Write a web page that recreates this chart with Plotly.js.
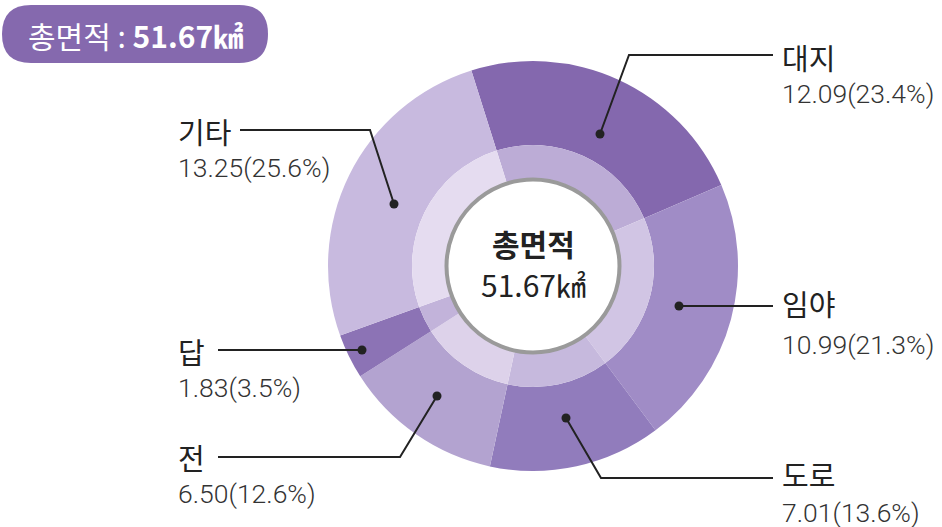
<!DOCTYPE html>
<html><head><meta charset="utf-8">
<script src="https://cdn.plot.ly/plotly-3.0.1.min.js"></script>
<style>html,body{margin:0;padding:0;background:#fff;}#chart{width:942px;height:527px;}</style>
</head><body><div id="chart"></div>
<script>
const categories = ['대지', '임야', '도로', '전', '답', '기타'];
const areas = [12.09, 10.99, 7.01, 6.50, 1.83, 13.25];
const percents = ['23.4%', '21.3%', '13.6%', '12.6%', '3.5%', '25.6%'];
const totalLabel = '총면적';
const totalValue = '51.67㎢';
const outerColors = ['#8468ae', '#a08cc6', '#917cbc', '#b3a3d0', '#8c73b5', '#c8badf'];
const innerColors = ['#bcacd6', '#d1c5e4', '#c6b9dd', '#ddd2ea', '#c2b3da', '#e5dcf0'];

const W = 942, H = 527;
const CX = 533, CY = 266, R_OUT = 205, R_MID = 121, R_IN = 86.5;
const px = x => x / W;
const py = y => 1 - y / H;
function dom(r) { return { x: [px(CX - r), px(CX + r)], y: [py(CY + r), py(CY - r)] }; }

const KR = '"Noto Sans CJK KR", "Noto Sans", sans-serif';
const NUM = 'Roboto, "Noto Sans CJK KR", sans-serif';

const common = { type: 'pie', sort: false, direction: 'clockwise', rotation: -17.5,
  textinfo: 'none', hoverinfo: 'label+value', showlegend: false };

const traces = [
  Object.assign({}, common, { labels: categories, values: areas, domain: dom(R_OUT), hole: R_MID / R_OUT,
    marker: { colors: outerColors, line: { width: 0 } } }),
  Object.assign({}, common, { labels: categories, values: areas, domain: dom(R_MID), hole: 84 / R_MID,
    marker: { colors: innerColors, line: { width: 0 } } })
];

const labelPos = {
  '대지': { x: 780, ty: 57, vy: 94, pts: [[600, 134], [629, 55], [773, 55]] },
  '임야': { x: 780, ty: 303, vy: 344, pts: [[679, 306], [773, 306]] },
  '도로': { x: 780, ty: 474, vy: 512, pts: [[566, 418], [601, 478], [773, 478]] },
  '전':   { x: 176, ty: 457, vy: 493, pts: [[437, 396], [400, 457], [218, 457]] },
  '답':   { x: 176, ty: 351, vy: 387, pts: [[362, 350], [218, 350]] },
  '기타': { x: 176, ty: 131, vy: 167, pts: [[394, 204], [370, 130], [240, 130]] }
};

const shapes = [];
const annotations = [];

categories.forEach((c, i) => {
  const p = labelPos[c];
  let d = '';
  p.pts.forEach((q, k) => { d += (k ? 'L' : 'M') + px(q[0]) + ',' + py(q[1]); });
  shapes.push({ type: 'path', xref: 'paper', yref: 'paper', path: d, line: { color: '#222', width: 2 }, layer: 'above' });
  const dp = p.pts[0];
  shapes.push({ type: 'circle', xref: 'paper', yref: 'paper', x0: px(dp[0] - 4.5), x1: px(dp[0] + 4.5),
    y0: py(dp[1] + 4.5), y1: py(dp[1] - 4.5), fillcolor: '#222', line: { width: 0 }, layer: 'above' });
  annotations.push({ xref: 'paper', yref: 'paper', x: px(p.x), y: py(p.ty), xanchor: 'left', yanchor: 'middle',
    text: c, showarrow: false, font: { family: KR, size: 29, color: '#222' } });
  annotations.push({ xref: 'paper', yref: 'paper', x: px(p.x), y: py(p.vy), xanchor: 'left', yanchor: 'middle',
    text: areas[i].toFixed(2) + '(' + percents[i] + ')', showarrow: false,
    font: { family: NUM, size: 26.5, color: '#333', weight: 300 } });
});

shapes.push({ type: 'circle', xref: 'paper', yref: 'paper', x0: px(CX - R_IN), x1: px(CX + R_IN),
  y0: py(CY + R_IN), y1: py(CY - R_IN), fillcolor: '#ffffff', line: { color: '#9a9a9a', width: 4 }, layer: 'above' });

annotations.push({ xref: 'paper', yref: 'paper', x: px(CX), y: py(243), xanchor: 'center', yanchor: 'middle',
  text: '<b>' + totalLabel + '</b>', showarrow: false, font: { family: KR, size: 30, color: '#222' } });
annotations.push({ xref: 'paper', yref: 'paper', x: px(CX), y: py(284), xanchor: 'center', yanchor: 'middle',
  text: totalValue, showarrow: false, font: { family: KR, size: 30, color: '#222' } });

const bx0 = 2, bx1 = 268, by0 = 5, by1 = 63, br = 29;
const badge = 'M' + px(bx0 + br) + ',' + py(by0) + 'L' + px(bx1 - br) + ',' + py(by0) +
  'Q' + px(bx1) + ',' + py(by0) + ' ' + px(bx1) + ',' + py((by0 + by1) / 2) +
  'Q' + px(bx1) + ',' + py(by1) + ' ' + px(bx1 - br) + ',' + py(by1) +
  'L' + px(bx0 + br) + ',' + py(by1) +
  'Q' + px(bx0) + ',' + py(by1) + ' ' + px(bx0) + ',' + py((by0 + by1) / 2) +
  'Q' + px(bx0) + ',' + py(by0) + ' ' + px(bx0 + br) + ',' + py(by0) + 'Z';
shapes.push({ type: 'path', xref: 'paper', yref: 'paper', path: badge, fillcolor: '#8569ae', line: { width: 0 }, layer: 'above' });
annotations.push({ xref: 'paper', yref: 'paper', x: px(135), y: py(35), xanchor: 'center', yanchor: 'middle',
  text: totalLabel + ' : <b>' + totalValue + '</b>', showarrow: false, font: { family: KR, size: 30, color: '#ffffff' } });

const layout = { width: W, height: H, margin: { l: 0, r: 0, t: 0, b: 0 }, paper_bgcolor: '#fff',
  showlegend: false, shapes: shapes, annotations: annotations };

Plotly.newPlot('chart', traces, layout, { displayModeBar: false, staticPlot: true });
</script></body></html>
